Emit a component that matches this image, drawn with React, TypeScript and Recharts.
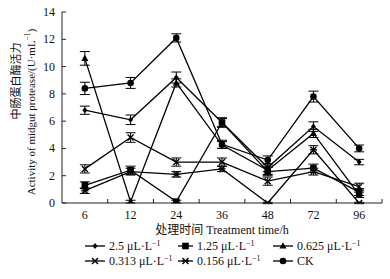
import React from 'react';
import { LineChart, Line, XAxis, YAxis, ErrorBar, Legend } from 'recharts';

const timeLabels = ['6', '12', '24', '36', '48', '72', '96'];
const yTicks = [0, 2, 4, 6, 8, 10, 12, 14];

const legendLabels = ['2.5', '1.25', '0.625', '0.313', '0.156', 'CK'];
const markerTypes = ['diamond', 'square', 'triangle', 'cross', 'star', 'circle'];

const v2_5 = [6.8, 6.1, 9.2, 5.9, 2.6, 5.6, 3.0];
const e2_5 = [0.3, 0.35, 0.4, 0.3, 0.3, 0.35, 0.2];
const v1_25 = [1.3, 2.4, 0.1, 5.9, 2.3, 2.55, 0.8];
const e1_25 = [0.25, 0.3, 0.1, 0.35, 0.3, 0.3, 0.25];
const v0_625 = [10.6, 0.1, 8.8, 4.25, 2.4, 5.1, 0.6];
const e0_625 = [0.5, 0.1, 0.3, 0.25, 0.3, 0.3, 0.2];
const v0_313 = [2.5, 4.8, 3.0, 3.0, 1.6, 2.3, 1.2];
const e0_313 = [0.3, 0.35, 0.3, 0.3, 0.3, 0.25, 0.25];
const v0_156 = [0.9, 2.3, 2.1, 2.5, 0.0, 3.9, 0.0];
const e0_156 = [0.2, 0.25, 0.2, 0.2, 0.05, 0.3, 0.05];
const vCK = [8.4, 8.8, 12.1, 4.3, 3.15, 7.8, 4.0];
const eCK = [0.45, 0.4, 0.3, 0.3, 0.3, 0.4, 0.25];

const seriesValues = [v2_5, v1_25, v0_625, v0_313, v0_156, vCK];
const seriesErrors = [e2_5, e1_25, e0_625, e0_313, e0_156, eCK];

const data = timeLabels.map((t, i) => {
  const row: Record<string, number | string> = { x: i, label: t };
  seriesValues.forEach((vals, s) => {
    row['s' + s] = vals[i];
    row['e' + s] = seriesErrors[s][i];
  });
  return row;
});

const FONT = '"Liberation Serif", "Noto Sans CJK SC", serif';

function Marker({ type, cx, cy }: { type: string; cx: number; cy: number }) {
  if (cx == null || cy == null || isNaN(cx) || isNaN(cy)) return null;
  switch (type) {
    case 'diamond':
      return <path d={`M${cx},${cy - 3} L${cx + 2.5},${cy} L${cx},${cy + 3} L${cx - 2.5},${cy} Z`} fill="#000" />;
    case 'square':
      return <rect x={cx - 3.3} y={cy - 3.3} width={6.6} height={6.6} fill="#000" />;
    case 'triangle':
      return <path d={`M${cx},${cy - 3.8} L${cx + 3.5},${cy + 2.6} L${cx - 3.5},${cy + 2.6} Z`} fill="#000" />;
    case 'cross':
      return (
        <g stroke="#000" strokeWidth={1.4}>
          <line x1={cx - 3} y1={cy - 3} x2={cx + 3} y2={cy + 3} />
          <line x1={cx - 3} y1={cy + 3} x2={cx + 3} y2={cy - 3} />
        </g>
      );
    case 'star':
      return (
        <g stroke="#000" strokeWidth={1.4}>
          <line x1={cx - 3} y1={cy - 3} x2={cx + 3} y2={cy + 3} />
          <line x1={cx - 3} y1={cy + 3} x2={cx + 3} y2={cy - 3} />
          <line x1={cx - 3.5} y1={cy} x2={cx + 3.5} y2={cy} />
        </g>
      );
    default:
      return <circle cx={cx} cy={cy} r={3.3} fill="#000" />;
  }
}

function XTick(props: any) {
  const { x, y, payload } = props;
  const v = payload.value;
  if (Number.isInteger(v)) {
    return (
      <text x={x} y={y + 16} textAnchor="middle" fontFamily={FONT} fontSize={12} fill="#111">
        {timeLabels[v]}
      </text>
    );
  }
  return <line x1={x} y1={y} x2={x} y2={y - 4} stroke="#222" strokeWidth={1} />;
}

function YTick(props: any) {
  const { x, y, payload } = props;
  return (
    <g>
      <line x1={x} y1={y} x2={x + 4} y2={y} stroke="#222" strokeWidth={1} />
      <text x={x - 7} y={y + 4} textAnchor="end" fontFamily={FONT} fontSize={12} fill="#111">
        {payload.value}
      </text>
    </g>
  );
}

function YLabel() {
  return (
    <g fontFamily={FONT} fill="#111">
      <text x={17} y={81} transform="rotate(-90 17 81)" textAnchor="middle" fontSize={11} dominantBaseline="middle">
        中肠蛋白酶活力
      </text>
      <text x={32} y={112} transform="rotate(-90 32 112)" textAnchor="middle" fontSize={11} dominantBaseline="middle">
        Activity of midgut protease/(U·mL
        <tspan dy={-4} fontSize={7.5}>−1</tspan>
        <tspan dy={4}>)</tspan>
      </text>
    </g>
  );
}

function XLabel(props: any) {
  const vb = props.viewBox || { x: 62, y: 203, width: 320 };
  return (
    <text x={vb.x + vb.width / 2} y={vb.y + 31} textAnchor="middle" fontFamily={FONT} fontSize={12} fill="#111">
      处理时间 Treatment time/h
    </text>
  );
}

const legendCols = [85, 178, 273];
const legendLineW = [20, 15, 20];

function LegendContent() {
  return (
    <svg width={390} height={34} style={{ display: 'block' }}>
      {legendLabels.map((name, i) => {
        const col = i % 3;
        const row = Math.floor(i / 3);
        const lx = legendCols[col];
        const lw = legendLineW[col];
        const cy = 8 + row * 15;
        return (
          <g key={name}>
            <line x1={lx} y1={cy} x2={lx + lw} y2={cy} stroke="#000" strokeWidth={1.3} />
            <Marker type={markerTypes[i]} cx={lx + lw / 2} cy={cy} />
            <text x={lx + lw + 4} y={cy + 4} fontFamily={FONT} fontSize={12} fill="#111">
              {name === 'CK' ? (
                'CK'
              ) : (
                <>
                  {name} μL·L
                  <tspan dy={-4} fontSize={8}>−1</tspan>
                </>
              )}
            </text>
          </g>
        );
      })}
    </svg>
  );
}

export default function App() {
  return (
    <div style={{ position: 'absolute', left: 0, top: 0, width: 390, height: 279, background: '#fff' }}>
      <LineChart width={390} height={279} data={data} margin={{ top: 12, right: 8, left: 0, bottom: 0 }}>
        <XAxis
          dataKey="x"
          type="number"
          domain={[-0.5, 6.5]}
          ticks={[0, 0.5, 1, 1.5, 2, 2.5, 3, 3.5, 4, 4.5, 5, 5.5, 6, 6.5]}
          interval={0}
          tick={<XTick />}
          tickLine={false}
          tickSize={0}
          tickMargin={0}
          height={76}
          axisLine={{ stroke: '#222', strokeWidth: 1 }}
          label={<XLabel />}
          allowDataOverflow
        />
        <YAxis
          type="number"
          domain={[0, 14]}
          ticks={yTicks}
          interval={0}
          tick={<YTick />}
          tickLine={false}
          tickSize={0}
          tickMargin={0}
          width={62}
          axisLine={{ stroke: '#222', strokeWidth: 1 }}
          label={<YLabel />}
          allowDataOverflow
        />
        <Legend
          layout="horizontal"
          verticalAlign="middle"
          align="center"
          content={<LegendContent />}
          wrapperStyle={{ left: 0, top: 238, width: 390, height: 34 }}
        />
        {seriesValues.map((_, s) => (
          <Line
            key={s}
            dataKey={'s' + s}
            name={legendLabels[s]}
            stroke="#000"
            strokeWidth={1.3}
            isAnimationActive={false}
            dot={(p: any) => <Marker key={'d' + s + '-' + p.index} type={markerTypes[s]} cx={p.cx} cy={p.cy} />}
            activeDot={false}
          >
            <ErrorBar dataKey={'e' + s} width={5} stroke="#000" strokeWidth={1} direction="y" />
          </Line>
        ))}
      </LineChart>
    </div>
  );
}
